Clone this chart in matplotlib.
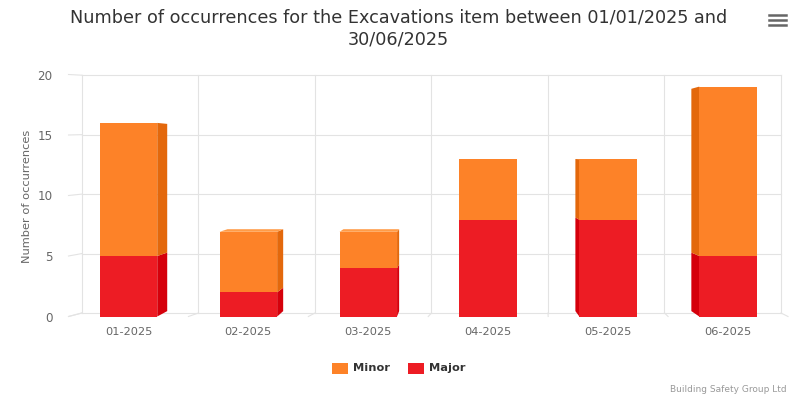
import matplotlib.pyplot as plt
from matplotlib.patches import Polygon, Rectangle
from matplotlib.lines import Line2D

# data
months = ['01-2025', '02-2025', '03-2025', '04-2025', '05-2025', '06-2025']
major = [5, 2, 4, 8, 8, 5]
minor = [11, 5, 3, 5, 5, 14]
series_names = ['Minor', 'Major']

title = 'Number of occurrences for the Excavations item between 01/01/2025 and\n30/06/2025'

ORANGE = '#fd8228'
ORANGE_SIDE = '#e3680c'
ORANGE_TOP = '#ff9b47'
RED = '#ed1c24'
RED_SIDE = '#d5000b'
RED_TOP = '#f4474d'
GRID = '#e3e3e3'

W, H = 799, 398


def back(x, y, sx, sy, cx, cy):
    # point pushed towards the vanishing point (fake 3D depth)
    return cx + (x - cx) * sx, cy + (y - cy) * sy


fig = plt.figure(figsize=(W / 100, H / 100), dpi=100)
ax = fig.add_axes([68.5 / W, (H - 316.5) / H, 719.5 / W, 242 / H])
ax.set_xlim(-0.5, 5.5)
ax.set_ylim(0, 20)
for sp in ax.spines.values():
    sp.set_visible(False)

# back wall, side wall and floor lines
wall = dict(sx=0.9715, sy=0.9825, cx=3.45, cy=16.6)
bounds = [b - 0.5 for b in range(len(months) + 1)]
yvals = [0, 5, 10, 15, 20]
for v in yvals:
    x0, y0 = back(-0.5, v, **wall)
    x1, y1 = back(5.5, v, **wall)
    ax.plot([x0, x1], [y0, y1], color=GRID, lw=0.8, zorder=0, clip_on=False)
    ax.plot([-0.5, x0], [v, y0], color=GRID, lw=0.8, zorder=0, clip_on=False)
for b in bounds:
    x0, y0 = back(b, 0, **wall)
    x1, y1 = back(b, 20, **wall)
    ax.plot([x0, x1], [y0, y1], color=GRID, lw=0.8, zorder=0, clip_on=False)
    ax.plot([b, x0], [0, y0], color=GRID, lw=0.8, zorder=0, clip_on=False)

# stacked 3D-looking columns
bar = dict(sx=0.967, sy=0.967, cx=2.76, cy=13.5)
hw = 0.24
for i in range(len(months)):
    segs = [(0, major[i], RED, RED_SIDE, RED_TOP),
            (major[i], major[i] + minor[i], ORANGE, ORANGE_SIDE, ORANGE_TOP)]
    for k, (y0, y1, fc, sc, tc) in enumerate(segs):
        xl, xr = i - hw, i + hw
        if xr < bar['cx']:
            pts = [(xr, y0), (xr, y1), back(xr, y1, **bar), back(xr, y0, **bar)]
            ax.add_patch(Polygon(pts, closed=True, fc=sc, ec='none', zorder=2, clip_on=False))
        if xl > bar['cx']:
            pts = [(xl, y0), (xl, y1), back(xl, y1, **bar), back(xl, y0, **bar)]
            ax.add_patch(Polygon(pts, closed=True, fc=sc, ec='none', zorder=2, clip_on=False))
        if k == len(segs) - 1 and y1 < bar['cy']:
            pts = [(xl, y1), (xr, y1), back(xr, y1, **bar), back(xl, y1, **bar)]
            ax.add_patch(Polygon(pts, closed=True, fc=tc, ec='none', zorder=2, clip_on=False))
        ax.add_patch(Rectangle((xl, y0), 2 * hw, y1 - y0, fc=fc, ec='none', zorder=3, clip_on=False))

ax.set_xticks(range(len(months)))
ax.set_xticklabels(months)
ax.set_yticks(yvals)
ax.tick_params(axis='x', length=0, pad=7.5, labelsize=8.2, labelcolor='#666666')
ax.tick_params(axis='y', length=0, pad=11.5, labelsize=8.6, labelcolor='#666666')

fig.text(27 / W, 1 - 196 / H, 'Number of occurrences', rotation=90, ha='center', va='center',
         fontsize=8.2, color='#666666')

fig.text(398.5 / W, 1 - 28.5 / H, title, ha='center', va='center', fontsize=12.7,
         color='#333333', linespacing=1.33)

# legend
colors = [ORANGE, RED]
sq_x = [332, 408]
for name, c, x in zip(series_names, colors, sq_x):
    fig.add_artist(Rectangle((x / W, 1 - 373.5 / H), 16 / W, 11 / H, fc=c, ec='none',
                             transform=fig.transFigure))
    fig.text((x + 21) / W, 1 - 368 / H, name, ha='left', va='center', fontsize=8.2,
             fontweight='bold', color='#333333')

fig.text(787 / W, 1 - 390 / H, 'Building Safety Group Ltd', ha='right', va='center',
         fontsize=6.5, color='#999999')

# context menu icon
for yy in [15, 20, 25]:
    fig.add_artist(Line2D([769 / W, 786 / W], [1 - yy / H, 1 - yy / H], color='#666666',
                          lw=1.8, transform=fig.transFigure))

fig.savefig('out.png', dpi=100)
